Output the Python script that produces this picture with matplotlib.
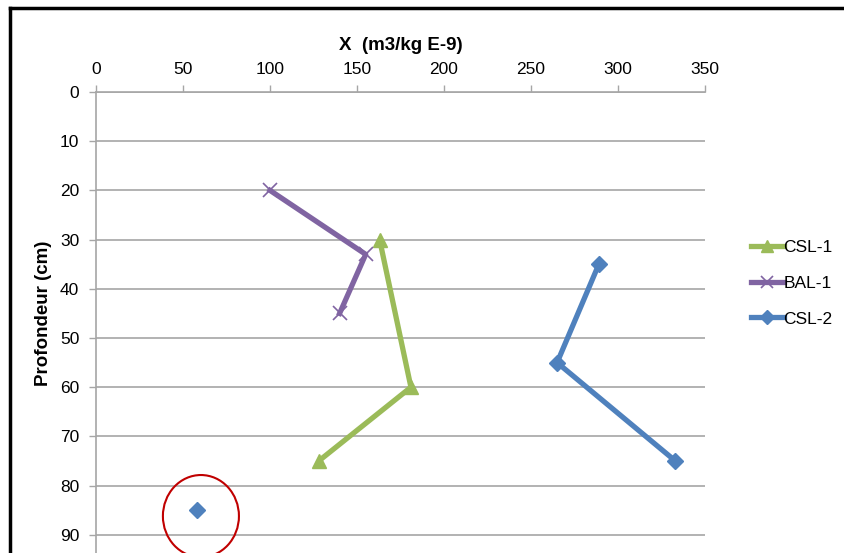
import matplotlib
matplotlib.use("Agg")
import matplotlib.pyplot as plt
from matplotlib.patches import Ellipse
from matplotlib.lines import Line2D

plt.rcParams['font.family'] = ['Liberation Sans', 'DejaVu Sans']

# ---------- Data ----------
csl1_x = [163, 181, 128]
csl1_y = [30, 60, 75]
bal1_x = [100, 155, 140]
bal1_y = [20, 33, 45]
csl2_x = [289, 265, 333]
csl2_y = [35, 55, 75]
lone_x = [58]
lone_y = [85]
x_ticks = [0, 50, 100, 150, 200, 250, 300, 350]
y_ticks = [0, 10, 20, 30, 40, 50, 60, 70, 80, 90]

green = "#9BBB59"
purple = "#8064A2"
blue = "#4F81BD"
grid_col = "#A6A6A6"

W, H = 844, 553
fig = plt.figure(figsize=(W / 100, H / 100), dpi=100)

# axes: x 0 at px 96, 350 at px 705 ; y 0 at px 92, 100 at px 584
ax = fig.add_axes([96 / W, 1 - 584 / H, (705 - 96) / W, (584 - 92) / H])
ax.set_xlim(0, 350)
ax.set_ylim(100, 0)
ax.xaxis.tick_top()
ax.set_xticks(x_ticks)
ax.set_yticks(y_ticks)
ax.tick_params(axis="both", direction="out", length=5, width=1, color=grid_col,
               labelsize=12.5)
ax.tick_params(axis="x", pad=6)
ax.tick_params(axis="y", pad=7)
for s in ["right", "bottom"]:
    ax.spines[s].set_visible(False)
for s in ["top", "left"]:
    ax.spines[s].set_color(grid_col)
    ax.spines[s].set_linewidth(1.2)
ax.yaxis.grid(True, color=grid_col, linewidth=1.2)
ax.set_axisbelow(True)

# ---------- Series ----------
ax.plot(csl1_x, csl1_y, color=green, linewidth=3.8, marker="^", markersize=10,
        label="CSL-1", solid_capstyle="butt")
ax.plot(bal1_x, bal1_y, color=purple, linewidth=3.8, marker="x", markersize=10,
        markeredgewidth=1.2, label="BAL-1")
ax.plot(csl2_x, csl2_y, color=blue, linewidth=3.8, marker="D", markersize=8,
        label="CSL-2")
ax.plot(lone_x, lone_y, color=blue, linestyle="none", marker="D", markersize=8)

# red circle around lone point
ax.add_patch(Ellipse((60.3, 86.2), 43.7, 16.7, fill=False, edgecolor="#C00000",
                     linewidth=1.5, clip_on=False))

# ---------- Labels ----------
fig.text(401 / W, 1 - 45 / H, "X  (m3/kg E-9)", ha="center", va="center",
         fontsize=13.5, fontweight="bold")
fig.text(44 / W, 1 - 313 / H, "Profondeur (cm)", ha="center", va="center",
         rotation=90, fontsize=13.5, fontweight="bold")

handles = [
    Line2D([], [], color=green, linewidth=3.8, marker="^", markersize=9),
    Line2D([], [], color=purple, linewidth=3.8, marker="x", markersize=9, markeredgewidth=1.2),
    Line2D([], [], color=blue, linewidth=3.8, marker="D", markersize=7),
]
fig.legend(handles, ["CSL-1", "BAL-1", "CSL-2"], loc="center left",
           bbox_to_anchor=(735 / W, 1 - 283 / H), frameon=False, fontsize=12.5,
           handlelength=1.9, handletextpad=0.0, labelspacing=1.2)

# ---------- Frame (cropped border) ----------
fig.add_artist(Line2D([10 / W, 1], [1 - 7.5 / H, 1 - 7.5 / H], color="black",
                      linewidth=2.5, transform=fig.transFigure))
fig.add_artist(Line2D([10 / W, 10 / W], [0, 1 - 7.5 / H], color="black",
                      linewidth=2.5, transform=fig.transFigure))

fig.savefig("out.png", dpi=100)
